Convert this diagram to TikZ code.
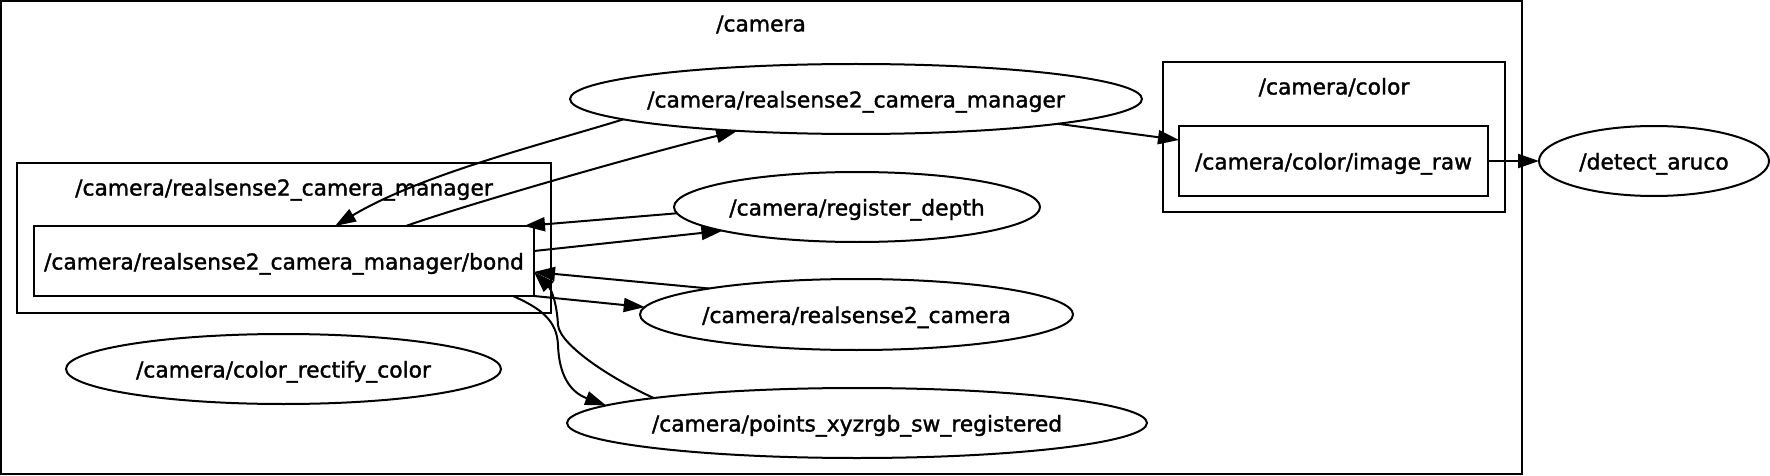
\documentclass[tikz,border=0pt]{standalone}
\usepackage{fontspec}
\setmainfont{DejaVu Sans}
\newfontfamily\gvfont[FakeBold=1.5]{DejaVu Sans}
\usetikzlibrary{shapes.geometric,arrows.meta}
\begin{document}
\begin{tikzpicture}[x=1pt,y=-1pt,
  every node/.style={font=\gvfont\fontsize{21.8}{26}\selectfont, inner sep=0pt, outer sep=0pt, text height=20pt, text depth=3pt},
  lw/.style={line width=2pt},
  cluster/.style={draw, lw, rectangle},
  topicbox/.style={draw, lw, rectangle, minimum height=70pt},
  nodeell/.style={draw, lw, ellipse, minimum height=70pt, inner xsep=-15pt},
  arr/.style={lw, -{Triangle[length=21pt,width=14pt]}}
]
\useasboundingbox (0,0) rectangle (1770,476);
% clusters
\node[cluster, minimum width=1521pt, minimum height=473pt] (camera) at (761.5,237.5) {};
\node (tcam) at (761,23) {/camera};
\node[cluster, minimum width=534pt, minimum height=150pt] (rcmcl) at (284,238) {};
\node (trcm) at (284,187) {/camera/realsense2\_camera\_manager};
\node[cluster, minimum width=342pt, minimum height=150pt] (colcl) at (1334,137) {};
\node (tcol) at (1334,86) {/camera/color};
% nodes
\node[topicbox, minimum width=500pt] (bond) at (284,261) {/camera/realsense2\_camera\_manager/bond};
\node[nodeell, minimum width=435pt] (crc) at (283.5,369) {/camera/color\_rectify\_color};
\node[nodeell, minimum width=572pt] (rcm) at (856,99) {/camera/realsense2\_camera\_manager};
\node[nodeell, minimum width=366pt] (reg) at (857,207) {/camera/register\_depth};
\node[nodeell, minimum width=433pt, minimum height=71pt] (rs2) at (856.5,314.5) {/camera/realsense2\_camera};
\node[nodeell, minimum width=580pt] (pts) at (857,423) {/camera/points\_xyzrgb\_sw\_registered};
\node[topicbox, minimum width=309pt] (raw) at (1333.5,161) {/camera/color/image\_raw};
\node[nodeell, minimum width=230pt] (aruco) at (1654,161) {/detect\_aruco};
% edges
\draw[arr] (rcm.185) .. controls (540,145) and (420,175) .. ([xshift=51pt]bond.north);
\draw[arr] ([xshift=122pt]bond.north) .. controls (450,210) and (620,160) .. (rcm.195.5);
\draw[arr] (reg.182) -- ([xshift=-10pt]bond.north east);
\draw[arr] ([yshift=10pt]bond.east) -- (reg.190);
\draw[arr] (rs2.170) -- ([yshift=-11pt]bond.east);
\draw[arr] (bond.south east) -- (rs2.178);
\draw[arr] ([xshift=-21pt]bond.south east) .. controls (540,308) and (557,320) .. (558,345)
   .. controls (559,375) and (570,392) .. (pts.176);
\draw[arr] (pts.173) .. controls (610,378) and (560,345) .. (558,325)
   .. controls (557,305) and (552,290) .. ([yshift=-11pt]bond.east);
\draw[arr] (rcm.353) -- ([yshift=21pt]raw.west);
\draw[arr] (raw.east) -- (aruco.west);
\end{tikzpicture}
\end{document}
